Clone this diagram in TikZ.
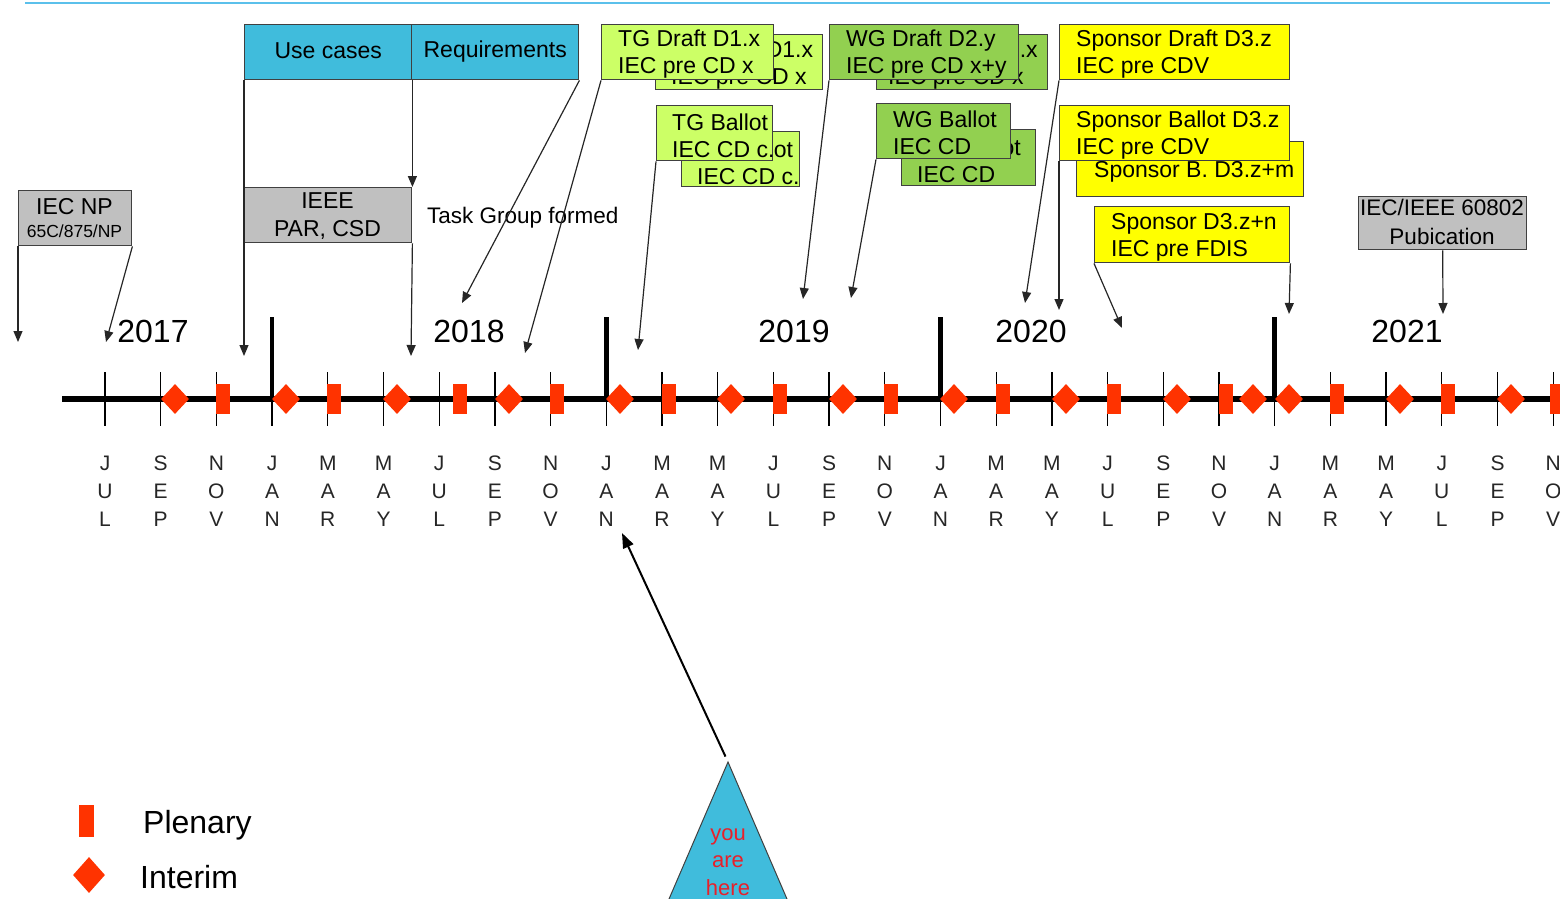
\documentclass[tikz,border=0pt]{standalone}
\usepackage{fontspec}
\setmainfont{Liberation Sans}
\usetikzlibrary{arrows.meta,shapes.geometric,calc}

\definecolor{skyc}{HTML}{40BCDC}
\definecolor{tgc}{HTML}{CCFF66}
\definecolor{wgc}{HTML}{92D050}
\definecolor{spc}{HTML}{FFFF00}
\definecolor{gryc}{HTML}{C0C0C0}
\definecolor{mkc}{HTML}{FF3300}
\definecolor{edgec}{HTML}{404040}
\definecolor{rulec}{HTML}{5BC0EB}
\definecolor{herec}{HTML}{E8202A}

\tikzset{
  box/.style={draw=edgec, line width=1.4pt, rectangle, inner sep=0pt, anchor=north west},
  txt/.style={font=\fontsize{23}{27}\selectfont, inner sep=0pt, align=left, anchor=west},
  ctxt/.style={font=\fontsize{23}{28}\selectfont, inner sep=0pt, align=center},
  conn/.style={line width=1.2pt, draw=black!85, -{Triangle[length=11pt,width=9pt]}},
  plen/.style={rectangle, fill=mkc, minimum width=14pt, minimum height=30pt, inner sep=0pt},
  intr/.style={diamond, fill=mkc, minimum width=28pt, minimum height=30pt, inner sep=0pt},
  month/.style={font=\fontsize{21}{28}\selectfont, align=center, text=black!85, inner sep=0pt},
  year/.style={font=\fontsize{32}{36}\selectfont, inner sep=0pt},
}

\begin{document}
\begin{tikzpicture}[x=1pt,y=-1pt]
\useasboundingbox (0,0) rectangle (1560,899);

% header rule
\draw[rulec, line width=2pt] (25,3) -- (1550,3);

% timeline axis, month ticks and year separators
\draw[line width=5.5pt] (62,399) -- (1570,399);
\foreach \i in {0,...,26}
  \draw[line width=1.3pt] ({105+55.7*\i},372) -- ({105+55.7*\i},426);
\foreach \i in {3,9,15,21}
  \draw[line width=4.5pt] ({105+55.7*\i},317) -- ({105+55.7*\i},399);

% month labels
\foreach \ma/\mb/\mc [count=\i from 0] in {J/U/L,S/E/P,N/O/V,J/A/N,M/A/R,M/A/Y,J/U/L,S/E/P,N/O/V,J/A/N,M/A/R,M/A/Y,J/U/L,S/E/P,N/O/V,J/A/N,M/A/R,M/A/Y,J/U/L,S/E/P,N/O/V,J/A/N,M/A/R,M/A/Y,J/U/L,S/E/P,N/O/V}
  \node[month] (mon\i) at ({105+55.7*\i},491) {\ma\\\mb\\\mc};

% meetings
\foreach \x in {175,286,397,509,620,731,843,954,1066,1177,1253,1289,1400,1511}
  \node[intr] (int\x) at (\x,399) {};
\foreach \x in {223,334,460,557,669,780,891,1003,1114,1226,1337,1448,1557}
  \node[plen] (pln\x) at (\x,399) {};

% years
\node[year] (y2017) at (153,331.5) {2017};
\node[year] (y2018) at (469,331.5) {2018};
\node[year] (y2019) at (794,331.5) {2019};
\node[year] (y2020) at (1031,331.5) {2020};
\node[year] (y2021) at (1407,331.5) {2021};

% IEC new work proposal
\node[box, fill=gryc, minimum width=113pt, minimum height=55pt] (np) at (18,190) {};
\node[font=\fontsize{23}{27}\selectfont, inner sep=0pt] (npa) at (74.5,206.5) {IEC NP};
\node[font=\fontsize{17.5}{20}\selectfont, inner sep=0pt] (npb) at (74.5,231) {65C/875/NP};

% use cases / requirements
\node[box, fill=skyc, minimum width=167pt, minimum height=55pt] (uc) at (244,24) {};
\node[ctxt] (uct) at ([yshift=1pt]uc.center) {Use cases};
\node[box, fill=skyc, minimum width=167pt, minimum height=55pt] (req) at (411,24) {};
\node[ctxt] (reqt) at ([yshift=1pt]req.center) {Requirements};

% IEEE PAR
\node[box, fill=gryc, minimum width=167pt, minimum height=55pt] (ieee) at (244,187) {};
\node[ctxt] (ieeet) at (327.5,216.5) {IEEE\\PAR, CSD};

\node[font=\fontsize{22.5}{27}\selectfont, inner sep=0pt, anchor=west] (tgf) at (427,217.5) {Task Group formed};

% task group drafts
\node[box, fill=tgc, minimum width=167pt, minimum height=55pt] (tgd2) at (655,34) {};
\node[txt] (tgd2t) at (671,65) {TG Draft D1.x\\IEC pre CD x};
\node[box, fill=tgc, minimum width=172pt, minimum height=55pt] (tgd) at (601,24) {};
\node[txt] (tgdt) at (618,54.5) {TG Draft D1.x\\IEC pre CD x};

\node[box, fill=tgc, minimum width=118pt, minimum height=55pt] (tgb2) at (681,131) {};
\node[txt] (tgb2t) at (697,162.5) {TG Ballot\\IEC CD c.};
\node[box, fill=tgc, minimum width=116pt, minimum height=55pt] (tgb) at (656,105) {};
\node[txt] (tgbt) at (672,135.5) {TG Ballot\\IEC CD c.};

% working group drafts
\node[box, fill=wgc, minimum width=171pt, minimum height=55pt] (wgd2) at (876,34) {};
\node[txt] (wgd2t) at (888,65) {WG Draft D2.x\\IEC pre CD x};
\node[box, fill=wgc, minimum width=189pt, minimum height=55pt] (wgd) at (829,24) {};
\node[txt] (wgdt) at (846,54.5) {WG Draft D2.y\\IEC pre CD x+y};

\node[box, fill=wgc, minimum width=134pt, minimum height=56pt] (wgb2) at (901,129) {};
\node[txt] (wgb2t) at (917,160.5) {WG Ballot\\IEC CD};
\node[box, fill=wgc, minimum width=134pt, minimum height=55pt] (wgb) at (876,103) {};
\node[txt] (wgbt) at (893,133) {WG Ballot\\IEC CD};

% sponsor stages
\node[box, fill=spc, minimum width=230pt, minimum height=55pt] (spd) at (1059,24) {};
\node[txt] (spdt) at (1076,54.5) {Sponsor Draft D3.z\\IEC pre CDV};

\node[box, fill=spc, minimum width=227pt, minimum height=55pt] (spb2) at (1076,141) {};
\node[txt] (spb2t) at (1094,171.5) {Sponsor B. D3.z+m};
\node[box, fill=spc, minimum width=230pt, minimum height=55pt] (spb) at (1059,105) {};
\node[txt] (spbt) at (1076,135.5) {Sponsor Ballot D3.z\\IEC pre CDV};

\node[box, fill=spc, minimum width=195pt, minimum height=56pt] (spn) at (1094,206) {};
\node[txt] (spnt) at (1111,237) {Sponsor D3.z+n\\IEC pre FDIS};

% publication
\node[box, fill=gryc, minimum width=168pt, minimum height=53pt] (pub) at (1358,196) {};
\node[ctxt, font=\fontsize{22.5}{29}\selectfont] (pubt) at (1442,222) {IEC/IEEE 60802\\Pubication};

% arrow ends
\coordinate (e1) at (18,342);
\coordinate (e2) at (106,342);
\coordinate (e3) at (244,356);
\coordinate (e5) at (411,356);
\coordinate (e6) at (462,303);
\coordinate (e7) at (525,353);
\coordinate (e8) at (638,350);
\coordinate (e9) at (803,299);
\coordinate (e10) at (851,298);
\coordinate (e11) at (1025,303);
\coordinate (e12) at (1059,310);
\coordinate (e13) at (1122,328);
\coordinate (e14) at (1289,314);
\coordinate (e15) at (1443,314);

\draw[conn] (np.south west) -- (e1);
\draw[conn] (np.south east) -- (e2);
\draw[conn] (uc.south west) -- (e3);
\draw[conn] (uc.south east) -- (ieee.north east);
\draw[conn] (ieee.south east) -- (e5);
\draw[conn] (req.south east) -- (e6);
\draw[conn] (tgd.south west) -- (e7);
\draw[conn] (tgb.south west) -- (e8);
\draw[conn] (wgd.south west) -- (e9);
\draw[conn] (wgb.south west) -- (e10);
\draw[conn] (spd.south west) -- (e11);
\draw[conn] (spb.south west) -- (e12);
\draw[conn] (spn.south west) -- (e13);
\draw[conn] (spn.south east) -- (e14);
\draw[conn] (pub.south) -- (e15);

% legend
\node[plen, minimum width=15pt, minimum height=32pt] (lgp) at (86,821) {};
\node[font=\fontsize{32}{36}\selectfont, inner sep=0pt, anchor=west] (lgpt) at (143,825) {Plenary};
\node[intr, minimum width=32pt, minimum height=36pt] (lgi) at (89,875) {};
\node[font=\fontsize{32}{36}\selectfont, inner sep=0pt, anchor=west] (lgit) at (140,877) {Interim};

% current position marker
\coordinate (apex) at (728,762);
\coordinate (now) at (622,533);
\draw[edgec, line width=1pt, fill=skyc] (apex) -- (790,906) -- (666,906) -- cycle;
\node[font=\fontsize{22}{27.5}\selectfont, text=herec, align=center, inner sep=0pt] (here) at (728,862) {you\\are\\here};
\draw[line width=2pt, -{Triangle[length=15pt,width=11pt]}, shorten <=6pt] (apex) -- (now);

\end{tikzpicture}
\end{document}
